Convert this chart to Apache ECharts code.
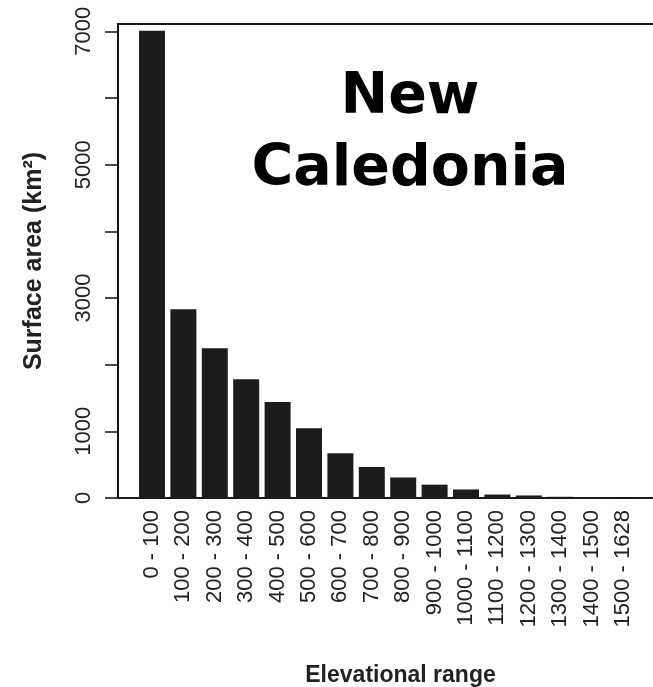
<!DOCTYPE html>
<html>
<head>
<meta charset="utf-8">
<script src="https://cdn.jsdelivr.net/npm/echarts@6/dist/echarts.min.js"></script>
<style>
  html, body { margin: 0; padding: 0; background: #fff; }
  #chart { width: 653px; height: 687px; }
</style>
</head>
<body>
<div id="chart"></div>
<script>
// elevation bands (m) and surface area per band (km2)
const ranges = ['0 - 100', '100 - 200', '200 - 300', '300 - 400', '400 - 500', '500 - 600', '600 - 700', '700 - 800',
  '800 - 900', '900 - 1000', '1000 - 1100', '1100 - 1200', '1200 - 1300', '1300 - 1400', '1400 - 1500', '1500 - 1628']
const areas = [7010, 2830, 2245, 1780, 1440, 1045, 670, 465, 308, 200, 128, 52, 38, 18, 8, 3]
const yTicks = [0, 1000, 2000, 3000, 4000, 5000, 6000, 7000]
const yLabels = [0, 1000, 3000, 5000, 7000]

const font = '"Liberation Sans", Arial, sans-serif'
const yMax = 7110

const myChart = echarts.init(document.getElementById('chart'))
const option = {
  animation: false,
  backgroundColor: '#fff',
  grid: [
    // bars
    { left: 136.3, right: 14.3, top: 24, bottom: 189, outerBoundsMode: 'none' },
    // frame + value axis
    {
      left: 118, right: -10, top: 24, bottom: 189, outerBoundsMode: 'none',
      show: true, borderColor: '#1a1a1a', borderWidth: 2, backgroundColor: 'transparent',
    },
  ],
  xAxis: [
    {
      type: 'category',
      gridIndex: 0,
      data: ranges,
      axisLine: { show: false },
      axisTick: { show: false },
      axisLabel: {
        interval: 0,
        rotate: 90,
        margin: 12,
        color: '#222',
        fontFamily: font,
        fontSize: 22,
      },
      name: 'Elevational range',
      nameLocation: 'middle',
      nameGap: 166,
      nameTextStyle: {
        fontFamily: font,
        fontSize: 23,
        fontWeight: 'bold',
        color: '#222',
        padding: [0, 0, 0, 26],
      },
    },
    { type: 'value', gridIndex: 1, min: 0, max: 1, show: false },
  ],
  yAxis: [
    { type: 'value', gridIndex: 0, min: 0, max: yMax, show: false },
    {
      type: 'value',
      gridIndex: 1,
      min: 0,
      max: yMax,
      splitLine: { show: false },
      axisLine: { show: true, lineStyle: { color: '#111', width: 2 } },
      axisTick: {
        show: true,
        length: 13,
        customValues: yTicks,
        lineStyle: { color: '#111', width: 1.5 },
      },
      axisLabel: {
        rotate: 90,
        margin: 23,
        customValues: yLabels,
        formatter: (v) => String(v),
        color: '#222',
        fontFamily: font,
        fontSize: 22,
      },
      name: 'Surface area (km²)',
      nameLocation: 'middle',
      nameGap: 71,
      nameTextStyle: {
        fontFamily: font,
        fontSize: 25,
        fontWeight: 'bold',
        color: '#222',
      },
    },
  ],
  graphic: [
    {
      type: 'text',
      x: 410,
      y: 62,
      style: {
        text: 'New\nCaledonia',
        fontFamily: '"DejaVu Sans"',
        fontWeight: 'bold',
        fontSize: 57,
        lineHeight: 72,
        align: 'center',
        verticalAlign: 'top',
        fill: '#000',
      },
    },
  ],
  series: [
    {
      type: 'bar',
      xAxisIndex: 0,
      yAxisIndex: 0,
      data: areas,
      barWidth: 26,
      itemStyle: { color: '#1c1c1a' },
    },
  ],
}
myChart.setOption(option)
</script>
</body>
</html>
